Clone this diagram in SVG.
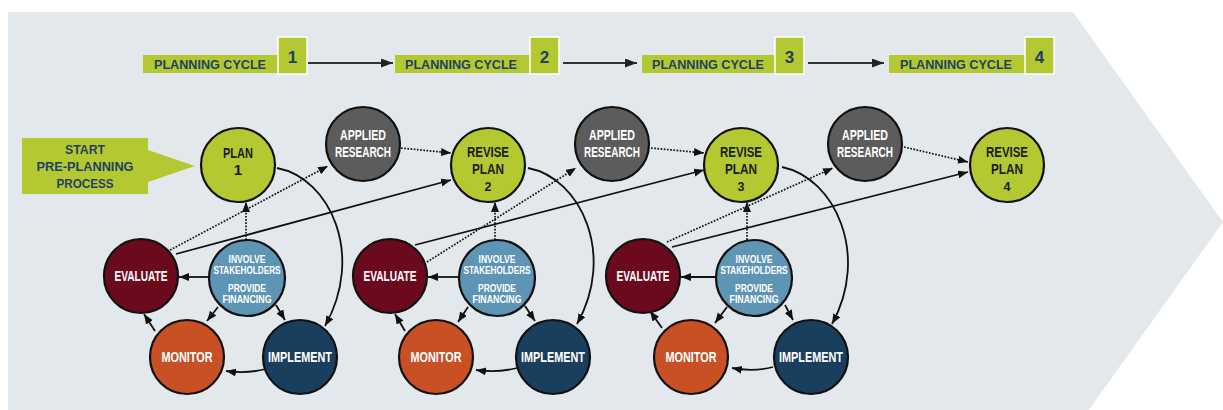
<svg xmlns="http://www.w3.org/2000/svg" width="1223" height="410" viewBox="0 0 1223 410">
<style>
.t{font-family:"Liberation Sans",Arial,sans-serif;font-weight:bold;text-anchor:middle}
.nv{fill:#1f3f63}
.wh{fill:#ffffff}
.dk{fill:#1b1b1b}
.gbox{fill:#b4c931}
.nbox{fill:#b4c931;stroke:#ffffff;stroke-width:1.5}
.c{stroke:#111;stroke-width:2.2}
.plan{fill:#b4c931}
.res{fill:#5c5c5c}
.eval{fill:#6c0a1d}
.inv{fill:#5e94b4}
.mon{fill:#c85024}
.imp{fill:#1a3f5e}
.ln{fill:none;stroke:#111;stroke-width:1.8}
.dt{fill:none;stroke:#111;stroke-width:1.7;stroke-dasharray:1.7 1.5}
.hd{fill:none;stroke:#333;stroke-width:2.2}
</style>
<defs>
<marker id="ah" markerUnits="userSpaceOnUse" markerWidth="11" markerHeight="9" refX="10" refY="4" orient="auto">
<path d="M0,0 L10,4 L0,8 z" fill="#111"/>
</marker>
<marker id="ahh" markerUnits="userSpaceOnUse" markerWidth="13" markerHeight="10" refX="12" refY="4.5" orient="auto">
<path d="M0,0 L12,4.5 L0,9 z" fill="#222"/>
</marker>
</defs>

<polygon points="8,12 1073,12 1223,222 1073,432 8,432" fill="#e3e8ed"/>

<g id="header">
<g id="cycle1-label">
<rect class="gbox" x="143" y="55" width="135" height="18"/>
<text class="t nv" x="210" y="69" font-size="13" textLength="112" lengthAdjust="spacingAndGlyphs">PLANNING CYCLE</text>
<rect class="nbox" x="278" y="37" width="29" height="37"/>
<text class="t nv" x="292.5" y="62.5" font-size="17">1</text>
</g>
<g id="cycle2-label">
<rect class="gbox" x="395" y="55" width="135" height="18"/>
<text class="t nv" x="461" y="69" font-size="13" textLength="112" lengthAdjust="spacingAndGlyphs">PLANNING CYCLE</text>
<rect class="nbox" x="530" y="37" width="29" height="37"/>
<text class="t nv" x="544.5" y="62.5" font-size="17">2</text>
</g>
<g id="cycle3-label">
<rect class="gbox" x="642" y="55" width="133" height="18"/>
<text class="t nv" x="708" y="69" font-size="13" textLength="112" lengthAdjust="spacingAndGlyphs">PLANNING CYCLE</text>
<rect class="nbox" x="775" y="37" width="29" height="37"/>
<text class="t nv" x="789.5" y="62.5" font-size="17">3</text>
</g>
<g id="cycle4-label">
<rect class="gbox" x="889" y="55" width="136" height="18"/>
<text class="t nv" x="956" y="69" font-size="13" textLength="112" lengthAdjust="spacingAndGlyphs">PLANNING CYCLE</text>
<rect class="nbox" x="1025" y="37" width="29" height="37"/>
<text class="t nv" x="1039.5" y="62.5" font-size="17">4</text>
</g>
</g>

<g id="start">
<path class="gbox" d="M22,138 H148 V150 L195,166 L148,182 V194 H22 Z"/>
<text class="t nv" x="85" y="154" font-size="13" textLength="40" lengthAdjust="spacingAndGlyphs">START</text>
<text class="t nv" x="85" y="171" font-size="13" textLength="97" lengthAdjust="spacingAndGlyphs">PRE-PLANNING</text>
<text class="t nv" x="85" y="188" font-size="13" textLength="57" lengthAdjust="spacingAndGlyphs">PROCESS</text>
</g>

<g id="connectors">
<line class="hd" x1="308" y1="63" x2="393" y2="63" marker-end="url(#ahh)"/>
<line class="hd" x1="563" y1="63" x2="637" y2="63" marker-end="url(#ahh)"/>
<line class="hd" x1="808" y1="63" x2="884" y2="63" marker-end="url(#ahh)"/>

<!-- cycle 1 -->
<path class="ln" d="M277,168 C330,178 365,255 325,326" marker-end="url(#ah)"/>
<line class="dt" x1="246" y1="240" x2="246" y2="202" marker-end="url(#ah)"/>
<line class="ln" x1="208" y1="277" x2="179" y2="277" marker-end="url(#ah)"/>
<line class="ln" x1="218" y1="307" x2="207" y2="321" marker-end="url(#ah)"/>
<line class="ln" x1="276" y1="305" x2="285" y2="320" marker-end="url(#ah)"/>
<path class="ln" d="M266,369 Q246,374 226,371" marker-end="url(#ah)"/>
<line class="ln" x1="155" y1="331" x2="144" y2="314" marker-end="url(#ah)"/>
<line class="dt" x1="170" y1="250" x2="328" y2="166" marker-end="url(#ah)"/>
<line class="ln" x1="176" y1="254" x2="451" y2="180" marker-end="url(#ah)"/>
<line class="dt" x1="401" y1="148" x2="451" y2="153" marker-end="url(#ah)"/>

<!-- cycle 2 -->
<path class="ln" d="M528,168 C581,178 616,255 577,324" marker-end="url(#ah)"/>
<line class="dt" x1="495" y1="240" x2="495" y2="202" marker-end="url(#ah)"/>
<line class="ln" x1="458" y1="277" x2="428" y2="277" marker-end="url(#ah)"/>
<line class="ln" x1="468" y1="307" x2="458" y2="322" marker-end="url(#ah)"/>
<line class="ln" x1="525" y1="306" x2="535" y2="321" marker-end="url(#ah)"/>
<path class="ln" d="M517,368 Q497,373 476,370" marker-end="url(#ah)"/>
<line class="ln" x1="405" y1="331" x2="395" y2="314" marker-end="url(#ah)"/>
<line class="dt" x1="427" y1="262" x2="576" y2="168" marker-end="url(#ah)"/>
<line class="ln" x1="415" y1="245" x2="704" y2="170" marker-end="url(#ah)"/>
<line class="dt" x1="651" y1="148" x2="704" y2="153" marker-end="url(#ah)"/>

<!-- cycle 3 -->
<path class="ln" d="M782,167 C835,178 870,255 832,324" marker-end="url(#ah)"/>
<line class="dt" x1="747" y1="240" x2="747" y2="202" marker-end="url(#ah)"/>
<line class="ln" x1="715" y1="277" x2="681" y2="277" marker-end="url(#ah)"/>
<line class="ln" x1="727" y1="307" x2="715" y2="323" marker-end="url(#ah)"/>
<line class="ln" x1="785" y1="305" x2="793" y2="320" marker-end="url(#ah)"/>
<path class="ln" d="M773,367 Q753,372 732,368" marker-end="url(#ah)"/>
<line class="ln" x1="662" y1="328" x2="650" y2="311" marker-end="url(#ah)"/>
<line class="dt" x1="667" y1="242" x2="833" y2="168" marker-end="url(#ah)"/>
<line class="ln" x1="672" y1="247" x2="968" y2="172" marker-end="url(#ah)"/>
<line class="dt" x1="904" y1="147" x2="968" y2="162" marker-end="url(#ah)"/>
</g>

<!-- cycle 1 nodes -->
<g id="plan1">
<circle class="plan c" cx="238" cy="165" r="37"/>
<text class="t dk" x="238" y="157.5" font-size="15" textLength="30" lengthAdjust="spacingAndGlyphs">PLAN</text>
<text class="t dk" x="238" y="175" font-size="15">1</text>
</g>
<g id="research1">
<circle class="res c" cx="363" cy="144" r="37"/>
<text class="t wh" x="363" y="140" font-size="14" textLength="46" lengthAdjust="spacingAndGlyphs">APPLIED</text>
<text class="t wh" x="363" y="157" font-size="14" textLength="56" lengthAdjust="spacingAndGlyphs">RESEARCH</text>
</g>
<g id="evaluate1">
<circle class="eval c" cx="141" cy="276" r="37"/>
<text class="t wh" x="141" y="281" font-size="14.5" textLength="53" lengthAdjust="spacingAndGlyphs">EVALUATE</text>
</g>
<g id="involve1">
<circle class="inv c" cx="247" cy="278" r="38"/>
<text class="t wh" x="247" y="263" font-size="11.5" textLength="37" lengthAdjust="spacingAndGlyphs">INVOLVE</text>
<text class="t wh" x="247" y="274" font-size="11.5" textLength="67" lengthAdjust="spacingAndGlyphs">STAKEHOLDERS</text>
<text class="t wh" x="247" y="292" font-size="11.5" textLength="38" lengthAdjust="spacingAndGlyphs">PROVIDE</text>
<text class="t wh" x="247" y="303" font-size="11.5" textLength="49" lengthAdjust="spacingAndGlyphs">FINANCING</text>
</g>
<g id="monitor1">
<circle class="mon c" cx="187" cy="357" r="37"/>
<text class="t wh" x="187" y="362" font-size="14.5" textLength="51" lengthAdjust="spacingAndGlyphs">MONITOR</text>
</g>
<g id="implement1">
<circle class="imp c" cx="300" cy="357" r="37"/>
<text class="t wh" x="300" y="362" font-size="14.5" textLength="64" lengthAdjust="spacingAndGlyphs">IMPLEMENT</text>
</g>

<!-- cycle 2 nodes -->
<g id="plan2">
<circle class="plan c" cx="488" cy="165" r="37"/>
<text class="t dk" x="488" y="157" font-size="15" textLength="42" lengthAdjust="spacingAndGlyphs">REVISE</text>
<text class="t dk" x="488" y="174" font-size="15" textLength="32" lengthAdjust="spacingAndGlyphs">PLAN</text>
<text class="t dk" x="488" y="191" font-size="12.5">2</text>
</g>
<g id="research2">
<circle class="res c" cx="612" cy="144" r="37"/>
<text class="t wh" x="612" y="140" font-size="14" textLength="46" lengthAdjust="spacingAndGlyphs">APPLIED</text>
<text class="t wh" x="612" y="157" font-size="14" textLength="56" lengthAdjust="spacingAndGlyphs">RESEARCH</text>
</g>
<g id="evaluate2">
<circle class="eval c" cx="390" cy="276" r="37"/>
<text class="t wh" x="390" y="281" font-size="14.5" textLength="53" lengthAdjust="spacingAndGlyphs">EVALUATE</text>
</g>
<g id="involve2">
<circle class="inv c" cx="497" cy="278" r="38"/>
<text class="t wh" x="497" y="263" font-size="11.5" textLength="37" lengthAdjust="spacingAndGlyphs">INVOLVE</text>
<text class="t wh" x="497" y="274" font-size="11.5" textLength="67" lengthAdjust="spacingAndGlyphs">STAKEHOLDERS</text>
<text class="t wh" x="497" y="292" font-size="11.5" textLength="38" lengthAdjust="spacingAndGlyphs">PROVIDE</text>
<text class="t wh" x="497" y="303" font-size="11.5" textLength="49" lengthAdjust="spacingAndGlyphs">FINANCING</text>
</g>
<g id="monitor2">
<circle class="mon c" cx="436" cy="357" r="37"/>
<text class="t wh" x="436" y="362" font-size="14.5" textLength="51" lengthAdjust="spacingAndGlyphs">MONITOR</text>
</g>
<g id="implement2">
<circle class="imp c" cx="553" cy="357" r="37"/>
<text class="t wh" x="553" y="362" font-size="14.5" textLength="64" lengthAdjust="spacingAndGlyphs">IMPLEMENT</text>
</g>

<!-- cycle 3 nodes -->
<g id="plan3">
<circle class="plan c" cx="741" cy="165" r="37"/>
<text class="t dk" x="741" y="157" font-size="15" textLength="42" lengthAdjust="spacingAndGlyphs">REVISE</text>
<text class="t dk" x="741" y="174" font-size="15" textLength="32" lengthAdjust="spacingAndGlyphs">PLAN</text>
<text class="t dk" x="741" y="191" font-size="12.5">3</text>
</g>
<g id="research3">
<circle class="res c" cx="865" cy="144" r="37"/>
<text class="t wh" x="865" y="140" font-size="14" textLength="46" lengthAdjust="spacingAndGlyphs">APPLIED</text>
<text class="t wh" x="865" y="157" font-size="14" textLength="56" lengthAdjust="spacingAndGlyphs">RESEARCH</text>
</g>
<g id="evaluate3">
<circle class="eval c" cx="643" cy="276" r="37"/>
<text class="t wh" x="643" y="281" font-size="14.5" textLength="53" lengthAdjust="spacingAndGlyphs">EVALUATE</text>
</g>
<g id="involve3">
<circle class="inv c" cx="754" cy="278" r="38"/>
<text class="t wh" x="754" y="263" font-size="11.5" textLength="37" lengthAdjust="spacingAndGlyphs">INVOLVE</text>
<text class="t wh" x="754" y="274" font-size="11.5" textLength="67" lengthAdjust="spacingAndGlyphs">STAKEHOLDERS</text>
<text class="t wh" x="754" y="292" font-size="11.5" textLength="38" lengthAdjust="spacingAndGlyphs">PROVIDE</text>
<text class="t wh" x="754" y="303" font-size="11.5" textLength="49" lengthAdjust="spacingAndGlyphs">FINANCING</text>
</g>
<g id="monitor3">
<circle class="mon c" cx="691" cy="357" r="37"/>
<text class="t wh" x="691" y="362" font-size="14.5" textLength="51" lengthAdjust="spacingAndGlyphs">MONITOR</text>
</g>
<g id="implement3">
<circle class="imp c" cx="811" cy="357" r="37"/>
<text class="t wh" x="811" y="362" font-size="14.5" textLength="64" lengthAdjust="spacingAndGlyphs">IMPLEMENT</text>
</g>

<g id="plan4">
<circle class="plan c" cx="1007" cy="165" r="37"/>
<text class="t dk" x="1007" y="157" font-size="15" textLength="42" lengthAdjust="spacingAndGlyphs">REVISE</text>
<text class="t dk" x="1007" y="174" font-size="15" textLength="32" lengthAdjust="spacingAndGlyphs">PLAN</text>
<text class="t dk" x="1007" y="191" font-size="12.5">4</text>
</g>
</svg>
